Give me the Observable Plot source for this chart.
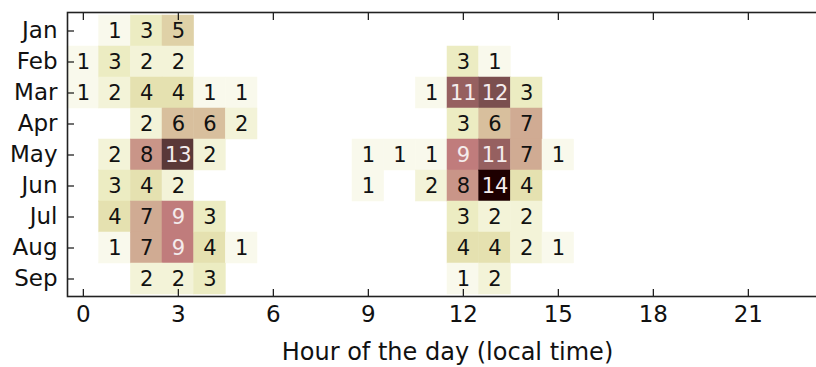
<!DOCTYPE html>
<html>
<head>
<meta charset="utf-8">
<script src="https://cdn.jsdelivr.net/npm/d3@7"></script>
<script src="https://cdn.jsdelivr.net/npm/@observablehq/plot@0.6"></script>
<style>
  html, body { margin: 0; padding: 0; background: #fff; }
</style>
</head>
<body>
<div id="chart"></div>
<script>
const months = ["Jan", "Feb", "Mar", "Apr", "May", "Jun", "Jul", "Aug", "Sep"];
const hourTicks = [0, 3, 6, 9, 12, 15, 18, 21];
// counts per hour of day (0..23) for each month
const jan = [0,1,3,5, 0,0,0,0, 0,0,0,0, 0,0,0,0, 0,0,0,0, 0,0,0,0];
const feb = [1,3,2,2, 0,0,0,0, 0,0,0,0, 3,1,0,0, 0,0,0,0, 0,0,0,0];
const mar = [1,2,4,4, 1,1,0,0, 0,0,0,1, 11,12,3,0, 0,0,0,0, 0,0,0,0];
const apr = [0,0,2,6, 6,2,0,0, 0,0,0,0, 3,6,7,0, 0,0,0,0, 0,0,0,0];
const may = [0,2,8,13, 2,0,0,0, 0,1,1,1, 9,11,7,1, 0,0,0,0, 0,0,0,0];
const jun = [0,3,4,2, 0,0,0,0, 0,1,0,2, 8,14,4,0, 0,0,0,0, 0,0,0,0];
const jul = [0,4,7,9, 3,0,0,0, 0,0,0,0, 3,2,2,0, 0,0,0,0, 0,0,0,0];
const aug = [0,1,7,9, 4,1,0,0, 0,0,0,0, 4,4,2,1, 0,0,0,0, 0,0,0,0];
const sep = [0,0,2,2, 3,0,0,0, 0,0,0,0, 1,2,0,0, 0,0,0,0, 0,0,0,0];

const monthRows = [jan, feb, mar, apr, may, jun, jul, aug, sep];
const cells = [];
monthRows.forEach((row, i) => {
  row.forEach((c, h) => {
    if (c > 0) cells.push({month: months[i], hour: h, count: c});
  });
});

// matplotlib "pink" colormap: sqrt((2*gray + hot)/3)
function hot(t) {
  const a = 0.365079, b = 0.746032;
  const r = t < a ? 0.0416 + t * (1 - 0.0416) / a : 1;
  const g = t < a ? 0 : t < b ? (t - a) / (b - a) : 1;
  const bl = t < b ? 0 : (t - b) / (1 - b);
  return [r, g, bl];
}
function pinkR(t) {
  const u = 1 - Math.max(0, Math.min(1, t));
  const h = hot(u);
  const c = h.map(v => Math.round(255 * Math.sqrt((2 * u + v) / 3)));
  return `rgb(${c[0]},${c[1]},${c[2]})`;
}

const font = "DejaVu Sans, Bitstream Vera Sans, sans-serif";

const chart = Plot.plot({
  width: 816,
  height: 367,
  marginTop: 12,
  marginBottom: 71,
  marginLeft: 67,
  marginRight: -11,
  style: {fontFamily: font, fontSize: "23px", background: "white", color: "#111"},
  x: {domain: [-0.5, 23.5]},
  y: {domain: months, padding: 0},
  color: {type: "linear", domain: [0, 14], interpolate: pinkR},
  marks: [
    Plot.barX(cells, {
      x1: d => d.hour - 0.5,
      x2: d => d.hour + 0.5,
      y: "month",
      fill: "count",
      stroke: "count",
      strokeWidth: 0.5,
      inset: 0
    }),
    Plot.text(cells.filter(d => d.count < 9), {
      x: "hour", y: "month", text: d => String(d.count),
      fill: "#111", fontSize: 21, fontFamily: font
    }),
    Plot.text(cells.filter(d => d.count >= 9), {
      x: "hour", y: "month", text: d => String(d.count),
      fill: "#f4ecec", fontSize: 21, fontFamily: font
    }),
    Plot.axisX({
      anchor: "bottom", ticks: hourTicks, tickSize: 0, tickPadding: 9,
      fontSize: 23, label: null
    }),
    Plot.axisX({
      anchor: "bottom", ticks: [], tickSize: 0,
      fontSize: 24, label: "Hour of the day (local time)",
      labelAnchor: "center", labelOffset: 63, labelArrow: "none"
    }),
    Plot.axisX({anchor: "bottom", ticks: hourTicks, tickSize: -7, tickFormat: () => "", label: null, strokeWidth: 1.2}),
    Plot.axisX({anchor: "top", ticks: hourTicks, tickSize: -7, tickFormat: () => "", label: null, strokeWidth: 1.2}),
    Plot.axisY({anchor: "left", tickSize: 0, tickPadding: 10, fontSize: 23, label: null}),
    Plot.axisY({anchor: "left", tickSize: -7, tickFormat: () => "", label: null, strokeWidth: 1.2}),
    Plot.frame({stroke: "#222", strokeWidth: 1.6})
  ]
});
document.getElementById("chart").appendChild(chart);
</script>
</body>
</html>
